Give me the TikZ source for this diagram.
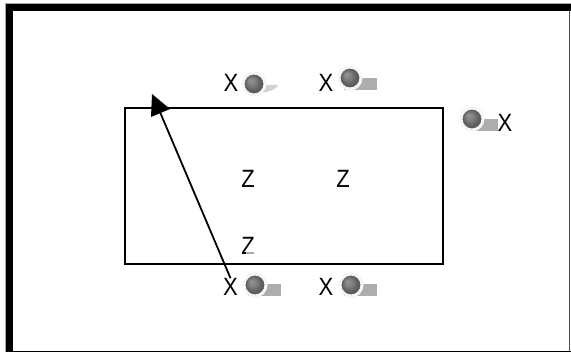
\documentclass[tikz,border=0pt]{standalone}
\usepackage{fontspec}
\setmainfont[FakeStretch=0.88]{Liberation Sans}
\definecolor{shadowgrey}{gray}{0.68}
\pgfdeclareradialshading{ballshade}{\pgfpoint{-0.3cm}{0.3cm}}{
  gray(0cm)=(0.58); gray(0.3cm)=(0.5); gray(0.6cm)=(0.38); gray(1cm)=(0.3)}
\tikzset{
  letter/.style={inner sep=0pt,font=\fontsize{25}{25}\selectfont,text=black},
  ball/.style={circle,minimum size=22pt,inner sep=0pt,draw=black!4,line width=3pt,shading=ballshade},
  shadowbar/.style={fill=shadowgrey,draw=none},
}
\begin{document}
\begin{tikzpicture}[x=1pt,y=-1pt]
\useasboundingbox (0,0) rectangle (571,352);
\fill[white] (0,0) rectangle (571,352);
\draw[black!35,line width=1pt] (5.2,352) -- (5.2,3.5) -- (571,3.5);
\draw[black,line width=7pt] (9,352) -- (9,7.5) -- (571,7.5);
\draw[black!70,line width=1.5pt] (569.5,10) -- (569.5,352);
\draw[black,line width=1.6pt] (9,351.4) -- (571,351.4);
\node[draw=black,line width=2pt,minimum width=318pt,minimum height=156pt,inner sep=0pt,anchor=north west] (box) at (124.2,107.2) {};
% shadows
\fill[shadowbar,black!18] (260,84) .. controls (268,86) and (273,84) .. (278,85) .. controls (276,90) and (266,93) .. (258,93) -- cycle;
\fill[shadowbar] (344,78) rectangle (377,90);
\fill[shadowbar] (248,284) rectangle (281,296);
\fill[shadowbar] (344,284) rectangle (377,296);
\fill[shadowbar] (475,119) rectangle (498,131);
% balls
\node[ball] (b1) at (254,84) {};
\node[ball] (b2) at (350,78) {};
\node[ball] (b3) at (255,285) {};
\node[ball] (b4) at (351,285) {};
\node[ball] (b5) at (472,119) {};
% letters
\node[letter] (x1) at (231,82.5) {X};
\node[letter] (x2) at (326,82.5) {X};
\node[letter] (x3) at (230.5,287) {X};
\node[letter] (x4) at (326,287) {X};
\node[letter] (x5) at (505,123) {X};
\node[letter] (z1) at (248,179) {Z};
\node[letter] (z2) at (343,179) {Z};
\node[letter] (z3) at (248,246) {Z};
\fill[white,opacity=0.65] (246,252) rectangle (256,256);
% arrow
\coordinate (tip) at (157,105);
\draw[black,line width=1.8pt] (x3.north) -- (tip);
\fill[black] (152,94) -- (170,109) -- (151,117) -- cycle;
\end{tikzpicture}
\end{document}
